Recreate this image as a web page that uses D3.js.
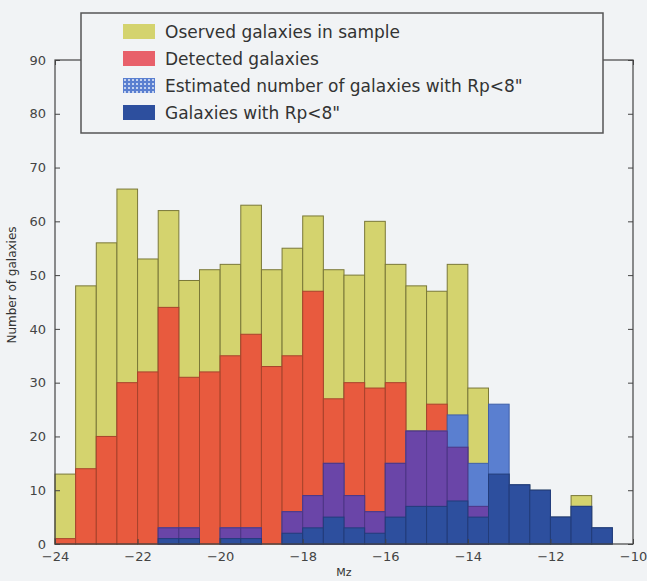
<!DOCTYPE html>
<html>
<head>
<meta charset="utf-8">
<script src="https://cdn.jsdelivr.net/npm/d3@7"></script>
<style>
  body { margin: 0; background: #f1f3f5; }
  text { font-family: "DejaVu Sans", sans-serif; fill: #333; }
</style>
</head>
<body>
<script>
// bin edges run from -24 to -10 in steps of 0.5
var binStart = -24, binWidth = 0.5;
var observed  = [13, 48, 56, 66, 53, 62, 49, 51, 52, 63, 51, 55, 61, 51, 50, 60, 52, 48, 47, 52, 29, 13, 11, 10, 5, 9, 3, 0];
var detected  = [1, 14, 20, 30, 32, 44, 31, 32, 35, 39, 33, 35, 47, 27, 30, 29, 30, 21, 26, 18, 7, 0, 0, 0, 0, 0, 0, 0];
var estimated = [0, 0, 0, 0, 0, 3, 3, 0, 3, 3, 0, 6, 9, 15, 9, 6, 15, 21, 21, 24, 15, 26, 11, 10, 5, 7, 3, 0];
var rp8       = [0, 0, 0, 0, 0, 1, 1, 0, 1, 1, 0, 2, 3, 5, 3, 2, 5, 7, 7, 8, 5, 13, 11, 10, 5, 7, 3, 0];
var xTicks = [-24, -22, -20, -18, -16, -14, -12, -10];
var yTicks = [0, 10, 20, 30, 40, 50, 60, 70, 80, 90];
var legendLabels = ["Oserved galaxies in sample", "Detected galaxies",
  "Estimated number of galaxies with Rp<8\"", "Galaxies with Rp<8\""];

var width = 647, height = 581;
// (window.top is taken, so the plot box gets its own names)
var plotL = 55, plotR = 633, plotT = 60, plotB = 544;

var x = d3.scaleLinear().domain([-24, -10]).range([plotL, plotR]);
var y = d3.scaleLinear().domain([0, 90]).range([plotB, plotT]);

var svg = d3.select('body').append('svg')
  .attr('width', width)
  .attr('height', height);

var defs = svg.append('defs');
var pat = defs.append('pattern')
  .attr('id', 'dots')
  .attr('width', 4).attr('height', 4)
  .attr('patternUnits', 'userSpaceOnUse');
pat.append('rect').attr('width', 4).attr('height', 4).attr('fill', '#5a7fd0');
pat.append('circle').attr('cx', 2).attr('cy', 2).attr('r', 1).attr('fill', '#e8eefa');

// one layer of bars per series, empty bins skipped
function bars(values, fill, stroke) {
  var binned = values.map(function(v, i) { return { i: i, v: v }; })
    .filter(function(d) { return d.v > 0; });
  svg.append('g').selectAll('rect')
    .data(binned)
    .enter().append('rect')
      .attr('x', function(d) { return x(binStart + d.i * binWidth); })
      .attr('width', x(binStart + binWidth) - x(binStart))
      .attr('y', function(d) { return y(d.v); })
      .attr('height', function(d) { return y(0) - y(d.v); })
      .style('fill', fill)
      .style('stroke', stroke)
      .style('stroke-width', 1);
}

bars(observed, '#d4d36e', '#7a7838');
bars(detected, '#e85a3e', '#a8432c');
bars(estimated, '#5a7fd0', '#3f5fa8');
// where the estimated bars cover the detected ones they show purple
bars(estimated.map(function(d, i) { return Math.min(d, detected[i]); }), '#6a45a8', '#4d3585');
bars(rp8, '#2d4f9e', '#223c7a');

// frame
svg.append('rect')
  .attr('x', plotL).attr('y', plotT)
  .attr('width', plotR - plotL).attr('height', plotB - plotT)
  .style('fill', 'none')
  .style('stroke', '#444')
  .style('stroke-width', 1.2);

// axes, ticks pointing inward
var xAxis = svg.append('g')
  .attr('transform', 'translate(0,' + plotB + ')')
  .call(d3.axisBottom(x).tickValues(xTicks).tickSize(-5).tickPadding(8)
    .tickFormat(function(d) { return d3.format('d')(d).replace('-', '\u2212'); }));
var xTop = svg.append('g')
  .attr('transform', 'translate(0,' + plotT + ')')
  .call(d3.axisTop(x).tickValues(xTicks).tickSize(-5).tickFormat(''));
var yAxis = svg.append('g')
  .attr('transform', 'translate(' + plotL + ',0)')
  .call(d3.axisLeft(y).tickValues(yTicks).tickSize(-5).tickPadding(9));
var yRight = svg.append('g')
  .attr('transform', 'translate(' + plotR + ',0)')
  .call(d3.axisRight(y).tickValues(yTicks).tickSize(-5).tickFormat(''));

[xAxis, xTop, yAxis, yRight].forEach(function(g) {
  g.select('.domain').remove();
  g.selectAll('line').style('stroke', '#444');
  g.selectAll('text').style('font-size', '13px').style('fill', '#444');
});

svg.append('text')
  .attr('x', (plotL + plotR) / 2).attr('y', 576)
  .attr('text-anchor', 'middle')
  .style('font-size', '11px')
  .text('Mz');

svg.append('text')
  .attr('transform', 'translate(16,' + 285 + ') rotate(-90)')
  .attr('text-anchor', 'middle')
  .style('font-size', '12px')
  .text('Number of galaxies');

// legend
var legend = svg.append('g');
legend.append('rect')
  .attr('x', 81).attr('y', 13)
  .attr('width', 522).attr('height', 120)
  .style('fill', '#f1f3f5')
  .style('stroke', '#555')
  .style('stroke-width', 1.5);

var swatchFill = ['#d4d36e', '#e8606a', 'url(#dots)', '#2d4f9e'];
var rows = legend.selectAll('g.row')
  .data(legendLabels)
  .enter().append('g')
    .attr('transform', function(d, i) { return 'translate(123,' + (32 + i * 27) + ')'; });
rows.append('rect')
  .attr('x', 0).attr('y', -8)
  .attr('width', 32).attr('height', 15)
  .style('fill', function(d, i) { return swatchFill[i]; });
rows.append('text')
  .attr('x', 42).attr('y', 6)
  .style('font-size', '17px')
  .style('fill', '#333')
  .text(function(d) { return d; });
</script>
</body>
</html>
